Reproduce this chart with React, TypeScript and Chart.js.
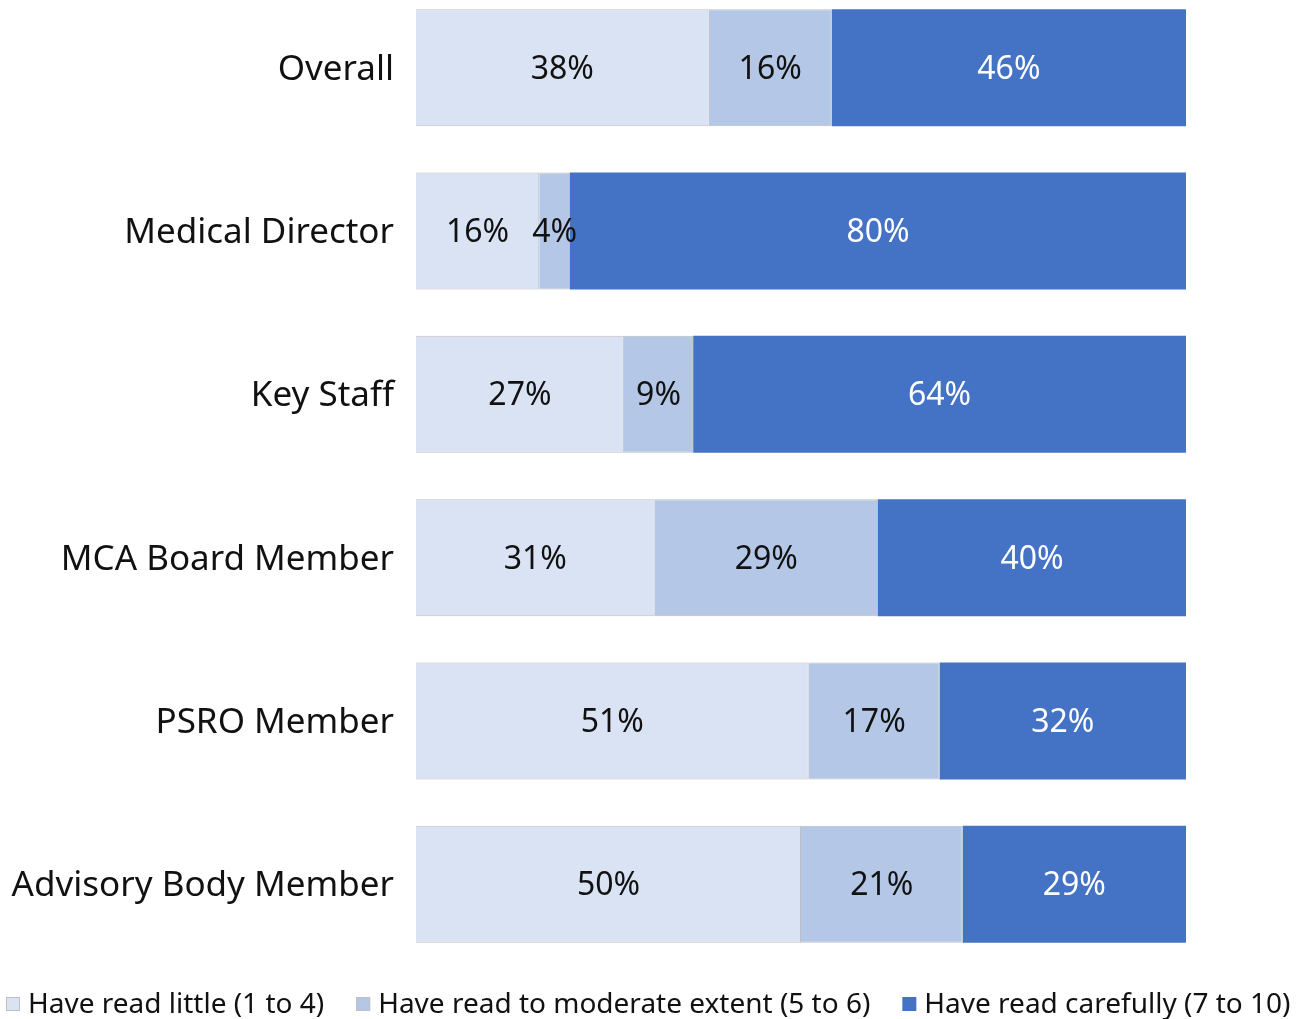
import React, { useEffect, useRef } from "react";
import { Chart, registerables } from "chart.js";

Chart.register(...registerables);

const categories = [
  "Overall",
  "Medical Director",
  "Key Staff",
  "MCA Board Member",
  "PSRO Member",
  "Advisory Body Member",
];
const seriesNames = [
  "Have read little (1 to 4)",
  "Have read to moderate extent (5 to 6)",
  "Have read carefully (7 to 10)",
];
const readLittle = [38, 16, 27, 31, 51, 50];
const readModerate = [16, 4, 9, 29, 17, 21];
const readCarefully = [46, 80, 64, 40, 32, 29];

const colors = ["#DAE3F3", "#B4C7E7", "#4472C4"];
const labelColors = ["#111111", "#111111", "#FFFFFF"];
const FONT = "'Noto Sans', 'Open Sans', sans-serif";

const dataLabelPlugin = {
  id: "dataLabels",
  afterDatasetsDraw(chart: any) {
    const ctx = chart.ctx;
    ctx.save();
    ctx.font = `32px ${FONT}`;
    ctx.textAlign = "center";
    ctx.textBaseline = "middle";
    chart.data.datasets.forEach((ds: any, di: number) => {
      const meta = chart.getDatasetMeta(di);
      meta.data.forEach((el: any, i: number) => {
        const v = ds.data[i];
        const p = el.getProps(["x", "y", "base"], true);
        ctx.fillStyle = labelColors[di];
        ctx.fillText(`${v}%`, (p.x + p.base) / 2, p.y + 2);
      });
    });
    ctx.restore();
  },
};

const legendPlugin = {
  id: "customLegend",
  afterDraw(chart: any) {
    const ctx = chart.ctx;
    ctx.save();
    ctx.font = `28px ${FONT}`;
    ctx.textBaseline = "middle";
    ctx.textAlign = "left";
    let x = 6;
    const yc = chart.chartArea.bottom + 38;
    chart.data.datasets.forEach((ds: any, di: number) => {
      ctx.fillStyle = colors[di];
      ctx.fillRect(x, yc - 7, 14, 14);
      if (di < 2) {
        ctx.strokeStyle = "#BFBFBF";
        ctx.lineWidth = 1;
        ctx.strokeRect(x + 0.5, yc - 6.5, 13, 13);
      }
      const tx = x + 22;
      ctx.fillStyle = "#111111";
      ctx.fillText(ds.label, tx, yc + 1);
      x = tx + ctx.measureText(ds.label).width + 32;
    });
    ctx.restore();
  },
};

export default function App() {
  const canvasRef = useRef<HTMLCanvasElement | null>(null);

  useEffect(() => {
    if (!canvasRef.current) return;
    const chart = new Chart(canvasRef.current, {
      type: "bar",
      data: {
        labels: categories,
        datasets: [readLittle, readModerate, readCarefully].map((d, i) => ({
          label: seriesNames[i],
          data: d,
          backgroundColor: colors[i],
          borderColor: "#BFBFBF",
          borderWidth: i < 2 ? 1 : 0,
          categoryPercentage: 1,
          barPercentage: 0.716,
        })),
      },
      options: {
        indexAxis: "y",
        animation: false,
        responsive: false,
        maintainAspectRatio: false,
        layout: { padding: { top: 0, right: 122, bottom: 53, left: 0 } },
        plugins: {
          legend: { display: false },
          tooltip: { enabled: false },
        },
        scales: {
          x: {
            stacked: true,
            min: 0,
            max: 100,
            display: false,
          },
          y: {
            stacked: true,
            grid: { display: false, drawTicks: false },
            border: { display: false },
            ticks: {
              padding: 22,
              labelOffset: 2,
              color: "#111111",
              font: { family: FONT, size: 35 },
            },
            afterFit: (scale: any) => {
              scale.width = 416;
              scale.paddingTop = 0;
              scale.paddingBottom = 0;
            },
          },
        },
      },
      plugins: [dataLabelPlugin, legendPlugin],
    });
    return () => chart.destroy();
  }, []);

  return (
    <div style={{ position: "absolute", left: 0, top: -14, width: 1308, height: 1033 }}>
      <canvas ref={canvasRef} width={1308} height={1033} style={{ width: 1308, height: 1033 }} />
    </div>
  );
}
